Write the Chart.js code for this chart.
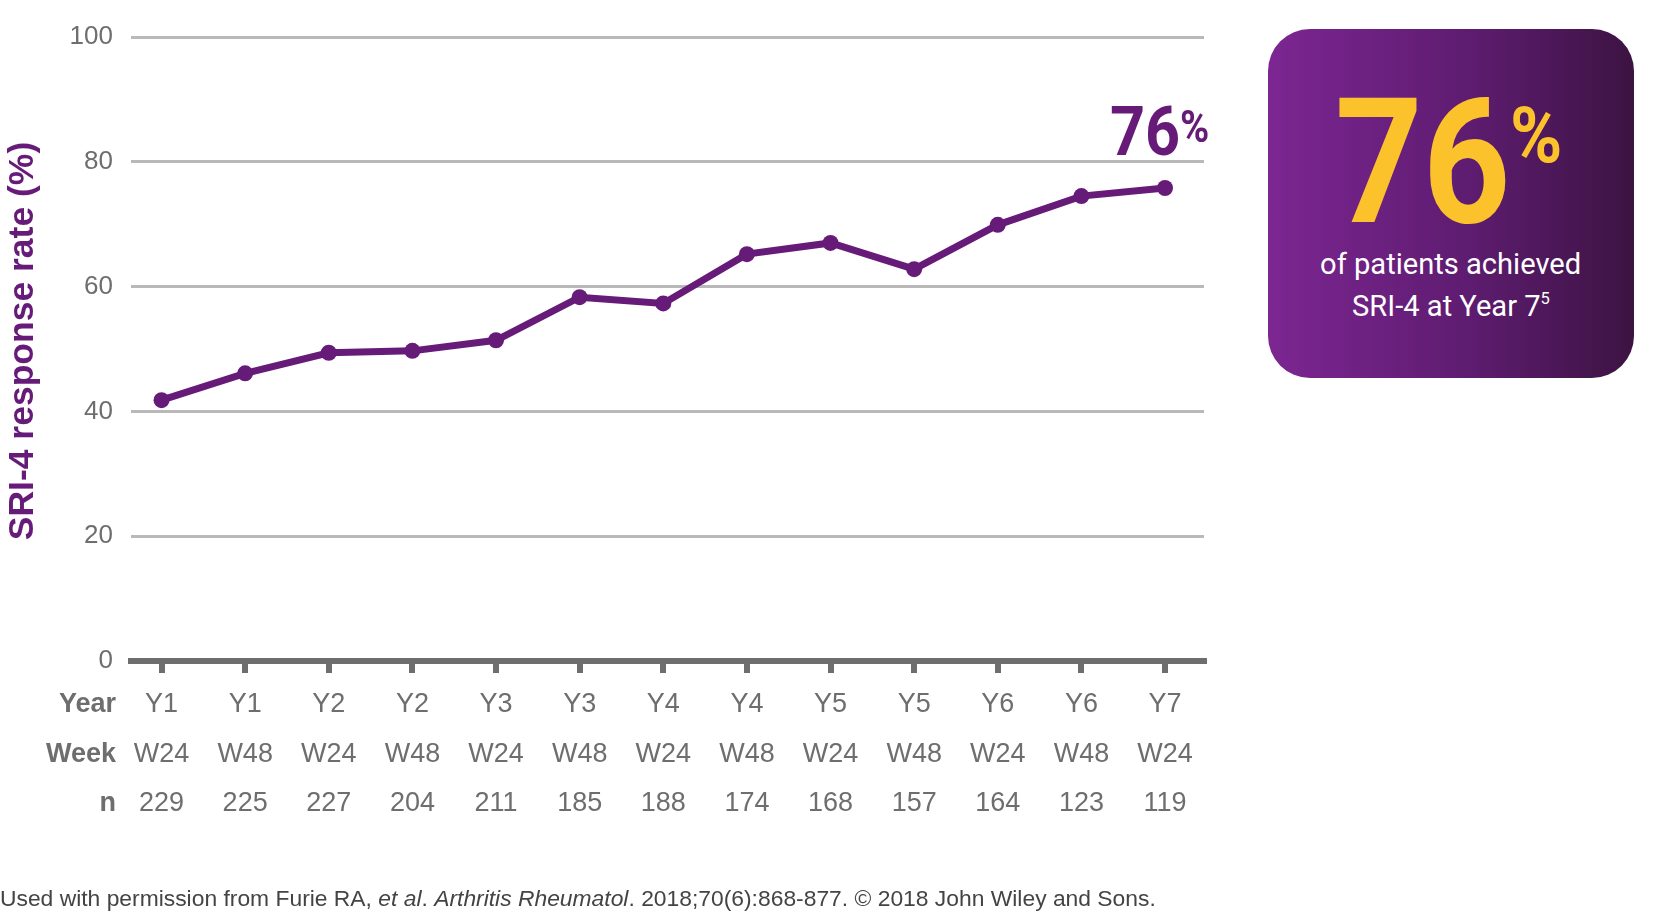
<!DOCTYPE html>
<html>
<head>
<meta charset="utf-8">
<script src="https://cdn.jsdelivr.net/npm/chart.js@4.4.1/dist/chart.umd.min.js"></script>
<style>
  html, body { margin: 0; padding: 0; background: #fff; }
  body { width: 1656px; height: 918px; position: relative; overflow: hidden; }
  #wrap { position: absolute; left: 0; top: 0; width: 1656px; height: 918px; }
  .abs { position: absolute; white-space: nowrap; line-height: 1; }
  #hl76 { font-family: Roboto, sans-serif; font-weight: 700; font-size: 68px; color: #671b78; left: 1110px; top: 98px; transform: scaleX(0.9); transform-origin: left top; }
  #hlPct { font-family: Roboto, sans-serif; font-weight: 700; font-size: 45px; color: #671b78; left: 1180px; top: 104px; transform: scaleX(0.88); transform-origin: left top; }
  #box { position: absolute; left: 1268px; top: 29px; width: 366px; height: 349px; border-radius: 42px;
         background: linear-gradient(to right, #7c2692 0%, #5e1c70 55%, #3c1342 100%); }
  #big76 { font-family: Roboto, sans-serif; font-weight: 700; font-size: 174px; color: #fcc22c; left: 1335px; top: 76px; transform: scaleX(0.88); transform-origin: left top; }
  #bigPct { font-family: Roboto, sans-serif; font-weight: 700; font-size: 77px; color: #fcc22c; left: 1510px; top: 98px; transform: scaleX(0.92); transform-origin: left top; }
  .boxline { font-family: Roboto, sans-serif; font-weight: 400; font-size: 30px; color: #fff; left: 1268px; width: 366px; text-align: center; }
  .boxline span { display: inline-block; transform: scaleX(0.97); }
  .boxline sup { font-size: 17px; vertical-align: 0; position: relative; top: -12px; }
  #footer { font-family: "Liberation Sans", Arial, sans-serif; font-size: 22.85px; color: #444; left: 0; top: 887px; }
</style>
</head>
<body>
<div id="wrap"><canvas id="c" width="1656" height="918"></canvas></div>
<div class="abs" id="hl76">76</div>
<div class="abs" id="hlPct">%</div>
<div id="box"></div>
<div class="abs" id="big76">76</div>
<div class="abs" id="bigPct">%</div>
<div class="abs boxline" style="top:249px;"><span>of patients achieved</span></div>
<div class="abs boxline" style="top:291px;"><span>SRI-4 at Year 7<sup>5</sup></span></div>
<div class="abs" id="footer">Used with permission from Furie RA, <i>et al</i>. <i>Arthritis Rheumatol</i>. 2018;70(6):868-877. © 2018 John Wiley and Sons.</div>
<script>
// ---- data ----
const years = ['Y1','Y1','Y2','Y2','Y3','Y3','Y4','Y4','Y5','Y5','Y6','Y6','Y7'];
const weeks = ['W24','W48','W24','W48','W24','W48','W24','W48','W24','W48','W24','W48','W24'];
const nValues = [229,225,227,204,211,185,188,174,168,157,164,123,119];
const sri4Rate = [41.8,46.1,49.4,49.7,51.4,58.3,57.3,65.2,67.0,62.8,69.9,74.5,75.8];
const yTicks = [0,20,40,60,80,100];
const rowHeaders = ['Year','Week','n'];
const yTitle = 'SRI-4 response rate (%)';

const PURPLE = '#671b78';
const GRAY = '#6e6e6e';
const LABEL_SIZE = 27;
const LINE_H = 49.5;
const TICK_LEN = 12;
const TICK_PAD = 7;

const extraTextPlugin = {
  id: 'extraText',
  afterDraw(chart) {
    const xs = chart.scales.x;
    const ctx = chart.ctx;
    ctx.save();
    // row headers of the table under the axis
    ctx.font = 'bold ' + LABEL_SIZE + 'px "Liberation Sans", Arial, sans-serif';
    ctx.fillStyle = GRAY;
    ctx.textAlign = 'right';
    ctx.textBaseline = 'middle';
    const y0 = xs.top + TICK_LEN + TICK_PAD + LINE_H / 2;
    rowHeaders.forEach((h, i) => ctx.fillText(h, 116, y0 + i * LINE_H));
    // y axis title
    ctx.translate(23, 341);
    ctx.rotate(-Math.PI / 2);
    ctx.font = 'bold 35.5px "Liberation Sans", Arial, sans-serif';
    ctx.fillStyle = PURPLE;
    ctx.textAlign = 'center';
    ctx.textBaseline = 'middle';
    ctx.fillText(yTitle, 0, 0);
    ctx.restore();
  }
};

new Chart(document.getElementById('c'), {
  type: 'line',
  data: {
    datasets: [{
      data: sri4Rate.map((v, i) => ({ x: i, y: v })),
      borderColor: PURPLE,
      backgroundColor: PURPLE,
      borderWidth: 7,
      pointRadius: 8,
      pointBackgroundColor: PURPLE,
      pointBorderWidth: 0,
      tension: 0,
      clip: false
    }]
  },
  options: {
    responsive: false,
    animation: false,
    events: [],
    layout: { padding: { left: 0, top: 37, right: 452, bottom: 0 } },
    plugins: { legend: { display: false }, tooltip: { enabled: false } },
    scales: {
      x: {
        type: 'linear',
        min: -0.365,
        max: 12.466,
        afterBuildTicks(scale) { scale.ticks = years.map((_, i) => ({ value: i })); },
        afterFit(scale) { scale.height = 918 - 661; },
        grid: { drawOnChartArea: false, drawTicks: true, tickLength: TICK_LEN, tickWidth: 6, tickColor: GRAY, lineWidth: 6, color: GRAY },
        border: { display: true, width: 6, color: GRAY },
        ticks: {
          autoSkip: false, maxRotation: 0, minRotation: 0, padding: TICK_PAD,
          color: GRAY,
          font: { family: '"Liberation Sans", Arial, sans-serif', size: LABEL_SIZE, lineHeight: LINE_H / LABEL_SIZE },
          callback: (v) => [years[v], weeks[v], String(nValues[v])]
        }
      },
      y: {
        min: 0, max: 100,
        afterBuildTicks(scale) { scale.ticks = yTicks.map(v => ({ value: v })); },
        afterFit(scale) { scale.width = 131; },
        grid: { color: '#b9b9b9', lineWidth: 3, drawTicks: false },
        border: { display: false },
        ticks: {
          padding: 18, color: GRAY,
          font: { family: '"Liberation Sans", Arial, sans-serif', size: 26 }
        }
      }
    }
  },
  plugins: [extraTextPlugin]
});
</script>
</body>
</html>
